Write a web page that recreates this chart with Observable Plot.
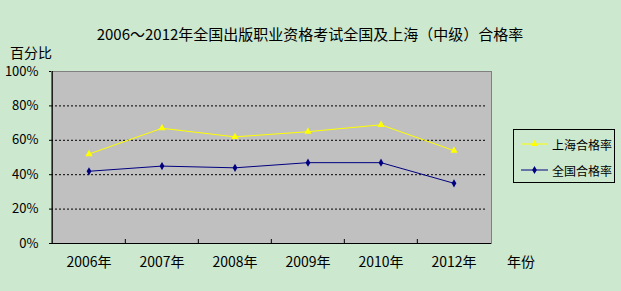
<!DOCTYPE html>
<html><head><meta charset="utf-8">
<script src="https://cdn.jsdelivr.net/npm/d3@7"></script>
<script src="https://cdn.jsdelivr.net/npm/@observablehq/plot@0.6"></script>
<style>
body{margin:0;}
#wrap{position:relative;width:621px;height:291px;background:#cce8cf;font-family:"Noto Sans CJK SC","Noto Sans",sans-serif;color:#000;overflow:hidden;}
#wrap svg{position:absolute;left:0;top:0;}
.abs{position:absolute;white-space:nowrap;line-height:1;}
#legend{position:absolute;left:513px;top:129px;width:100px;height:52px;border:1px solid #000;}
.row{position:absolute;left:0;height:16px;display:flex;align-items:center;font-size:12px;}
</style></head>
<body>
<div id="wrap">
  <div class="abs" id="title" style="left:310px;top:26px;transform:translateX(-50%);font-size:15px;"></div>
  <div class="abs" id="ylab" style="left:10px;top:45px;font-size:14px;"></div>
  <div class="abs" id="xlab" style="left:507px;top:254px;font-size:14px;"></div>
  <div id="legend"></div>
</div>
<script>
const titleText = "2006～2012年全国出版职业资格考试全国及上海（中级）合格率";
const yAxisLabel = "百分比";
const xAxisLabel = "年份";
const years = ["2006年","2007年","2008年","2009年","2010年","2012年"];
const shanghai = [52, 67, 62, 65, 69, 54];
const national = [42, 45, 44, 47, 47, 35];
const seriesNames = ["上海合格率","全国合格率"];
const seriesColors = ["#ffff00","#000080"];
const yTicks = [0,20,40,60,80,100];
const gridTicks = [20,40,60,80];

document.getElementById("title").textContent = titleText;
document.getElementById("ylab").textContent = yAxisLabel;
document.getElementById("xlab").textContent = xAxisLabel;

const W = 621, H = 291, mL = 51, mR = 130, mT = 71, mB = 48;
const bw = (W - mL - mR) / years.length;
const plotH = H - mT - mB;

const shData = years.map((year, i) => ({year, value: shanghai[i]}));
const natData = years.map((year, i) => ({year, value: national[i]}));

const chart = Plot.plot({
  width: W, height: H,
  marginLeft: mL, marginRight: mR, marginTop: mT, marginBottom: mB,
  style: {background: "transparent", fontFamily: '"Noto Sans CJK SC","Noto Sans",sans-serif', fontSize: "13px", color: "#000", overflow: "visible"},
  x: {type: "band", domain: years, padding: 0, label: null},
  y: {domain: [0, 100], label: null},
  marks: [
    Plot.frame({fill: "#c0c0c0", stroke: "#808080"}),
    Plot.ruleY(gridTicks, {stroke: "#000", strokeDasharray: "2,2", insetRight: 5}),
    Plot.ruleY([0], {stroke: "#000"}),
    Plot.ruleX([years[0]], {dx: -bw / 2, stroke: "#000"}),
    Plot.ruleX(years.slice(1), {dx: -bw / 2, stroke: "#000", insetTop: plotH - 4}),
    Plot.axisY({ticks: yTicks, tickFormat: d => d + "%", tickSize: 2, tickPadding: 11, fontSize: 13}),
    Plot.axisX({tickSize: 0, tickPadding: 14, fontSize: 14}),
    Plot.line(shData, {x: "year", y: "value", stroke: seriesColors[0], strokeWidth: 1}),
    Plot.dot(shData, {x: "year", y: "value", symbol: "triangle", fill: seriesColors[0], r: 2.7}),
    Plot.line(natData, {x: "year", y: "value", stroke: seriesColors[1], strokeWidth: 1}),
    Plot.dot(natData, {x: "year", y: "value", symbol: "diamond", fill: seriesColors[1], r: 2.5})
  ]
});
document.getElementById("wrap").insertBefore(chart, document.getElementById("title"));

// legend
const legend = document.getElementById("legend");
const symbols = [d3.symbolTriangle, d3.symbolDiamond];
const sizes = [22, 19];
const rowTops = [6, 32];
seriesNames.forEach((name, i) => {
  const row = document.createElement("div");
  row.className = "row";
  row.style.top = rowTops[i] + "px";
  const ns = "http://www.w3.org/2000/svg";
  const s = document.createElementNS(ns, "svg");
  s.setAttribute("width", 38); s.setAttribute("height", 16);
  s.style.position = "static";
  const ln = document.createElementNS(ns, "line");
  ln.setAttribute("x1", 7); ln.setAttribute("x2", 34); ln.setAttribute("y1", 8); ln.setAttribute("y2", 8);
  ln.setAttribute("stroke", seriesColors[i]);
  s.appendChild(ln);
  const p = document.createElementNS(ns, "path");
  p.setAttribute("d", d3.symbol(symbols[i], sizes[i])());
  p.setAttribute("transform", "translate(20.5,8)");
  p.setAttribute("fill", seriesColors[i]);
  s.appendChild(p);
  row.appendChild(s);
  const t = document.createElement("span");
  t.textContent = name;
  row.appendChild(t);
  legend.appendChild(row);
});
</script>
</body></html>
